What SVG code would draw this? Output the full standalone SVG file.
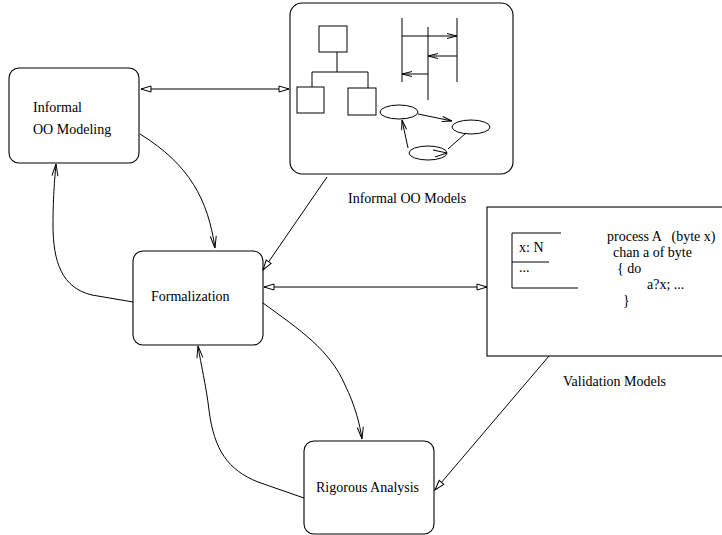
<svg xmlns="http://www.w3.org/2000/svg" width="722" height="535" viewBox="0 0 722 535">
  <style>
    .box { fill: #fff; stroke: #000; stroke-width: 1.1; }
    .ln { fill: none; stroke: #000; stroke-width: 1; }
    .lbl { font-family: "Liberation Serif", "Times New Roman", serif; font-size: 14px; fill: #000; }
  </style>
  <defs>
    <!-- hollow triangle head -->
    <marker id="tri" viewBox="0 0 12 8" refX="11" refY="4" markerWidth="12" markerHeight="8" markerUnits="userSpaceOnUse" orient="auto-start-reverse">
      <path d="M1,1 L11,4 L1,7 Z" fill="#fff" stroke="#000" stroke-width="1"/>
    </marker>
    <!-- open stick head -->
    <marker id="stick" viewBox="0 0 14 8" refX="13" refY="4" markerWidth="14" markerHeight="8" markerUnits="userSpaceOnUse" orient="auto">
      <path d="M1,1 L13,4 L1,7" fill="none" stroke="#000" stroke-width="1"/>
    </marker>
    <marker id="small" viewBox="0 0 12 8" refX="11" refY="4" markerWidth="12" markerHeight="8" markerUnits="userSpaceOnUse" orient="auto">
      <path d="M1,1.5 L11,4 L1,6.5" fill="none" stroke="#000" stroke-width="1"/>
    </marker>
  </defs>

  <g id="informal-modeling">
    <rect class="box" x="9" y="68" width="130" height="95" rx="10"/>
    <text class="lbl" x="33" y="112">Informal</text>
    <text class="lbl" x="33" y="134">OO Modeling</text>
  </g>

  <g id="informal-models">
    <rect class="box" x="290" y="3" width="223" height="171" rx="12"/>
    <!-- class hierarchy -->
    <rect class="ln" x="319" y="26" width="28" height="26"/>
    <path class="ln" d="M337,52 V72 M312,72 H368 M312,72 V87 M368,72 V88"/>
    <rect class="ln" x="297" y="87" width="27" height="26"/>
    <rect class="ln" x="348" y="88" width="28" height="27"/>
    <!-- sequence chart -->
    <path class="ln" d="M402,18 V82 M428,27 V100 M457,18 V82"/>
    <path class="ln" d="M402,36 H457" marker-end="url(#small)"/>
    <path class="ln" d="M457,56 H428" marker-end="url(#small)"/>
    <path class="ln" d="M428,74 H402" marker-end="url(#small)"/>
    <!-- state machine -->
    <ellipse class="ln" cx="399" cy="112" rx="19" ry="7"/>
    <ellipse class="ln" cx="471" cy="127" rx="19" ry="7"/>
    <ellipse class="ln" cx="428" cy="153" rx="19" ry="7"/>
    <path class="ln" d="M418,114 L452,121" marker-end="url(#small)"/>
    <path class="ln" d="M408,148 L402,120" marker-end="url(#small)"/>
    <path class="ln" d="M466,133 L448,149"/>
    <path class="ln" d="M433,150 L447,153 L435,157"/>
    <text class="lbl" x="348" y="203">Informal OO Models</text>
  </g>

  <g id="formalization">
    <rect class="box" x="133" y="251" width="130" height="94" rx="10"/>
    <text class="lbl" x="151" y="301">Formalization</text>
  </g>

  <g id="validation-models">
    <rect class="box" x="487" y="207" width="245" height="149"/>
    <path class="ln" d="M512,233 H561 M512,233 V288 H578 M512,262 H549"/>
    <text class="lbl" x="519" y="252">x: N</text>
    <text class="lbl" x="519" y="272">...</text>
    <text class="lbl" x="607" y="241" xml:space="preserve">process A   (byte x)</text>
    <text class="lbl" x="613" y="257">chan a of byte</text>
    <text class="lbl" x="617" y="273">{ do</text>
    <text class="lbl" x="647" y="289">a?x; ...</text>
    <text class="lbl" x="623" y="305">}</text>
    <text class="lbl" x="563" y="386">Validation Models</text>
  </g>

  <g id="rigorous-analysis">
    <rect class="box" x="304" y="441" width="130" height="93" rx="10"/>
    <text class="lbl" x="316" y="492">Rigorous Analysis</text>
  </g>

  <g id="connectors">
    <path class="ln" d="M141,89 L289,89" marker-start="url(#tri)" marker-end="url(#tri)"/>
    <path class="ln" d="M264,287 L487,287" marker-start="url(#tri)" marker-end="url(#tri)"/>
    <path class="ln" d="M327,177 L263,270" marker-end="url(#tri)"/>
    <path class="ln" d="M549,356 L435,490" marker-end="url(#tri)"/>
    <path class="ln" d="M140,134 C190,165 208,200 215,248" marker-end="url(#stick)"/>
    <path class="ln" d="M133,302 L92,295 C62,288 53,262 53,225 C53,195 55,175 56,164" marker-end="url(#stick)"/>
    <path class="ln" d="M263,303 C300,330 330,350 345,385 C355,405 360,425 362,439" marker-end="url(#stick)"/>
    <path class="ln" d="M304,498 L258,482 C228,470 214,450 209,410 C206,385 201,365 198,346" marker-end="url(#stick)"/>
  </g>
</svg>
